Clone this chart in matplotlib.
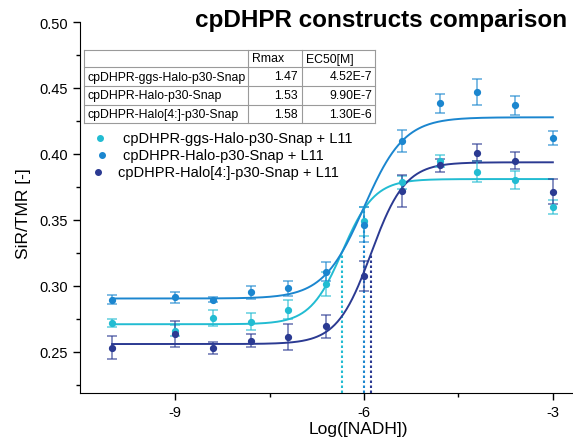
import numpy as np
import matplotlib as mpl
mpl.use('Agg')
import matplotlib.pyplot as plt
from matplotlib.lines import Line2D
from matplotlib.colors import to_rgba

plt.rcParams['font.family'] = ['Liberation Sans', 'DejaVu Sans']

# log10 of NADH concentration (M)
log_nadh = [-10.0, -9.0, -8.4, -7.8, -7.2, -6.6, -6.0, -5.4, -4.8, -4.2, -3.6, -3.0]

names = ["cpDHPR-ggs-Halo-p30-Snap", "cpDHPR-Halo-p30-Snap", "cpDHPR-Halo[4:]-p30-Snap"]
colors = ["#22BCD2", "#1B86CF", "#2B3A92"]

ratio_ggs = [0.2720, 0.2662, 0.2758, 0.2730, 0.2818, 0.3015, 0.3490, 0.3786, 0.3945, 0.3866, 0.3803, 0.3596]
err_ggs = [0.0032, 0.0040, 0.0060, 0.0066, 0.0072, 0.0090, 0.0110, 0.0050, 0.0045, 0.0078, 0.0069, 0.0053]
ratio_halo = [0.2896, 0.2914, 0.2896, 0.2952, 0.2983, 0.3108, 0.3465, 0.4096, 0.4384, 0.4467, 0.4371, 0.4121]
err_halo = [0.0032, 0.0044, 0.0017, 0.0050, 0.0057, 0.0070, 0.0135, 0.0082, 0.0073, 0.0098, 0.0072, 0.0054]
ratio_h4 = [0.2533, 0.2636, 0.2530, 0.2586, 0.2614, 0.2695, 0.3076, 0.3722, 0.3915, 0.4010, 0.3949, 0.3714]
err_h4 = [0.0085, 0.0097, 0.0042, 0.0050, 0.0097, 0.0086, 0.0114, 0.0120, 0.0048, 0.0063, 0.0066, 0.0095]

# dose-response fit parameters: bottom, top, hill slope
fit_bottom = [0.271, 0.2905, 0.256]
fit_top = [0.381, 0.4278, 0.3937]
fit_hill = [1.7, 1.35, 1.6]
rmax = ["1.47", "1.53", "1.58"]
ec50 = [4.52e-7, 9.90e-7, 1.30e-6]
ec50_txt = ["4.52E-7", "9.90E-7", "1.30E-6"]

W, H = 573, 439


def px(x, y):
    return x / W, 1 - y / H


fig = plt.figure(figsize=(W / 100, H / 100), dpi=100)
ax = fig.add_axes([80 / W, 1 - 394 / H, 1 - 80 / W, (394 - 23) / H])
ax.set_xlim(-10.51, -2.68)
ax.set_ylim(0.2189, 0.50)

ratios = [ratio_ggs, ratio_halo, ratio_h4]
errs = [err_ggs, err_halo, err_h4]
xs = np.linspace(log_nadh[0], log_nadh[-1], 300)
for i in range(3):
    logec = np.log10(ec50[i])
    b, t, h = fit_bottom[i], fit_top[i], fit_hill[i]
    curve = b + (t - b) / (1 + 10 ** ((logec - xs) * h))
    ax.plot(xs, curve, color=colors[i], lw=1.4, zorder=2)
    ax.vlines(logec, ax.get_ylim()[0], (b + t) / 2, colors=colors[i],
              linestyles=(0, (1.2, 1.2)), lw=1.5, zorder=1)
    ax.errorbar(log_nadh, ratios[i], yerr=errs[i], fmt='o', ms=4.2,
                color=colors[i], ecolor=to_rgba(colors[i], 0.65),
                elinewidth=1.2, capsize=3.5, capthick=1.2, zorder=3)

for s in ['top', 'right']:
    ax.spines[s].set_visible(False)
ax.set_xticks([-9, -6, -3])
ax.set_xticklabels(['-9', '-6', '-3'])
ax.set_xticks([-7.5, -4.5], minor=True)
ax.set_yticks([0.25, 0.30, 0.35, 0.40, 0.45, 0.50])
ax.set_yticks([0.225, 0.275, 0.325, 0.375, 0.425, 0.475], minor=True)
ax.tick_params(which='major', length=5, width=1, labelsize=10.5, direction='out')
ax.tick_params(which='minor', length=3, width=1, direction='out')
ax.set_xlabel('Log([NADH])', fontsize=12.5)
ax.set_ylabel('SiR/TMR [-]', fontsize=12.5)
ax.xaxis.set_label_coords((358 - 80) / 493, -(422 - 394) / 371)
ax.yaxis.set_label_coords(-(80 - 31) / 493, 0.485)

fig.text(*px(381, 20), 'cpDHPR constructs comparison', fontsize=17.5,
         fontweight='bold', ha='center', va='center')

# results table
rows_y = [51, 68, 87, 106, 124]
cols_x = [84, 248, 302, 375]
for y in rows_y:
    fig.add_artist(Line2D([cols_x[0] / W, cols_x[-1] / W], [1 - y / H] * 2,
                          color='#9a9a9a', lw=0.8))
for x in cols_x:
    fig.add_artist(Line2D([x / W] * 2, [1 - rows_y[0] / H, 1 - rows_y[-1] / H],
                          color='#9a9a9a', lw=0.8))
fig.text(*px(252, 59.5), 'Rmax', fontsize=8.8, va='center')
fig.text(*px(306, 59.5), 'EC50[M]', fontsize=8.8, va='center')
for i in range(3):
    yc = (rows_y[i + 1] + rows_y[i + 2]) / 2
    fig.text(*px(87, yc), names[i], fontsize=8.8, va='center')
    fig.text(*px(298, yc), rmax[i], fontsize=8.8, va='center', ha='right')
    fig.text(*px(372, yc), ec50_txt[i], fontsize=8.8, va='center', ha='right')

# legend
leg_y = [139, 156, 173]
leg_mx = [100, 102, 98]
leg_tx = [123, 123, 118]
for i in range(3):
    mx, my = px(leg_mx[i], leg_y[i])
    fig.add_artist(Line2D([mx], [my], marker='o', ms=4, color=colors[i], lw=0))
    fig.text(*px(leg_tx[i], leg_y[i]), names[i] + ' + L11', fontsize=10.5, va='center')

fig.savefig('out.png', dpi=100)
